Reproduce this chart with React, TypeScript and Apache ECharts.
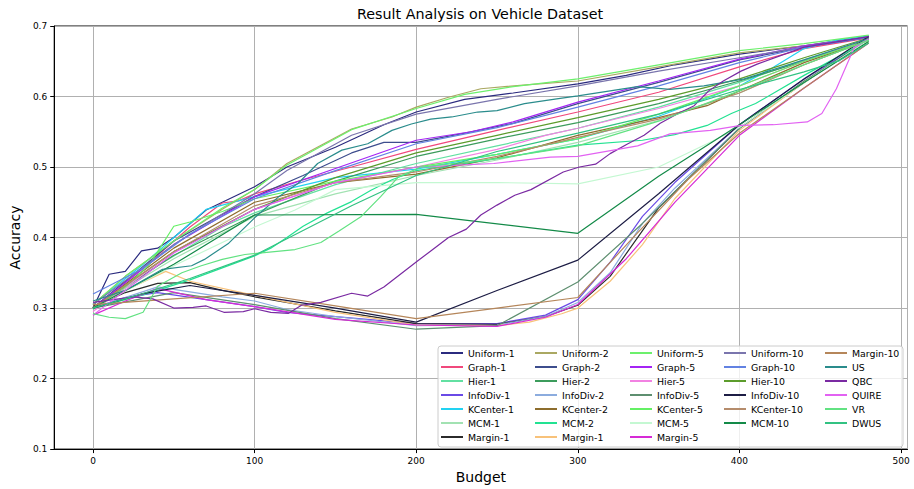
import React, { useEffect, useRef } from 'react';
import * as echarts from 'echarts';

const SERIES_NAMES = [
  'Uniform-1', 'Graph-1', 'Hier-1', 'InfoDiv-1', 'KCenter-1', 'MCM-1', 'Margin-1',
  'Uniform-2', 'Graph-2', 'Hier-2', 'InfoDiv-2', 'KCenter-2', 'MCM-2', 'Margin-1',
  'Uniform-5', 'Graph-5', 'Hier-5', 'InfoDiv-5', 'KCenter-5', 'MCM-5', 'Margin-5',
  'Uniform-10', 'Graph-10', 'Hier-10', 'InfoDiv-10', 'KCenter-10', 'MCM-10',
  'Margin-10', 'US', 'QBC', 'QUIRE', 'VR', 'DWUS',
];

const uniform1 = [[0,0.300],[10,0.348],[20,0.352],[30,0.381],[40,0.385],[50,0.400],[70,0.439],[100,0.472],[120,0.500],[150,0.528],[180,0.560],[200,0.578],[230,0.596],[260,0.605],[300,0.618],[330,0.630],[360,0.645],[400,0.660],[440,0.672],[480,0.686]];
const graph1 = [[0,0.300],[30,0.355],[60,0.415],[80,0.449],[90,0.452],[100,0.462],[130,0.482],[160,0.500],[200,0.525],[250,0.552],[300,0.578],[350,0.606],[400,0.642],[440,0.668],[480,0.683]];
const hier1 = [[0,0.298],[40,0.360],[80,0.415],[100,0.435],[150,0.475],[200,0.505],[250,0.530],[300,0.555],[350,0.585],[400,0.620],[440,0.652],[480,0.680]];
const infoDiv1 = [[0,0.300],[20,0.315],[40,0.322],[70,0.312],[100,0.302],[120,0.294],[150,0.288],[200,0.278],[250,0.278],[280,0.290],[300,0.312],[320,0.365],[340,0.430],[360,0.478],[400,0.560],[440,0.625],[480,0.680]];
const kCenter1 = [[0,0.305],[30,0.360],[60,0.420],[70,0.440],[100,0.458],[150,0.485],[200,0.497],[250,0.518],[300,0.540],[350,0.572],[400,0.615],[420,0.640],[440,0.668],[460,0.680],[480,0.686]];
const mcm1 = [[0,0.300],[50,0.370],[100,0.430],[150,0.462],[200,0.488],[250,0.510],[300,0.535],[350,0.566],[400,0.605],[440,0.645],[480,0.680]];
const margin1 = [[0,0.302],[20,0.322],[40,0.335],[60,0.336],[80,0.325],[100,0.316],[150,0.296],[200,0.278],[250,0.277],[280,0.288],[300,0.304],[320,0.345],[350,0.442],[400,0.555],[440,0.620],[480,0.682]];
const uniform2 = [[0,0.305],[20,0.345],[50,0.395],[80,0.440],[100,0.468],[120,0.505],[160,0.554],[185,0.571],[200,0.585],[220,0.599],[240,0.611],[270,0.617],[300,0.622],[350,0.642],[400,0.662],[440,0.672],[480,0.684]];
const graph2 = [[0,0.300],[50,0.395],[100,0.458],[130,0.488],[160,0.520],[180,0.535],[200,0.535],[230,0.548],[260,0.562],[300,0.590],[350,0.620],[400,0.652],[440,0.670],[480,0.684]];
const hier2 = [[0,0.300],[50,0.375],[100,0.432],[150,0.480],[200,0.515],[250,0.540],[300,0.563],[350,0.590],[400,0.622],[440,0.650],[480,0.680]];
const infoDiv2 = [[0,0.300],[40,0.330],[80,0.316],[100,0.310],[120,0.298],[150,0.288],[200,0.275],[250,0.276],[280,0.288],[300,0.308],[320,0.350],[340,0.420],[360,0.470],[400,0.555],[440,0.620],[480,0.680]];
const kCenter2 = [[0,0.300],[50,0.385],[100,0.450],[150,0.478],[200,0.490],[250,0.513],[300,0.545],[350,0.570],[380,0.587],[400,0.608],[440,0.648],[480,0.680]];
const mcm2 = [[0,0.300],[30,0.318],[60,0.340],[80,0.357],[100,0.374],[110,0.385],[120,0.400],[130,0.416],[145,0.435],[160,0.451],[172,0.467],[185,0.482],[200,0.495],[250,0.512],[300,0.531],[340,0.538],[360,0.546],[380,0.559],[395,0.576],[410,0.590],[440,0.630],[480,0.680]];
const margin1b = [[0,0.300],[20,0.325],[45,0.352],[60,0.338],[100,0.318],[150,0.294],[200,0.276],[250,0.275],[270,0.280],[290,0.292],[300,0.300],[320,0.338],[340,0.390],[360,0.455],[400,0.552],[440,0.620],[480,0.680]];
const uniform5 = [[0,0.305],[20,0.345],[50,0.395],[80,0.442],[100,0.468],[120,0.503],[160,0.553],[200,0.583],[230,0.603],[260,0.614],[300,0.625],[350,0.645],[400,0.665],[440,0.675],[480,0.687]];
const graph5 = [[0,0.300],[50,0.390],[100,0.458],[150,0.498],[200,0.538],[234,0.550],[260,0.564],[300,0.592],[350,0.622],[400,0.653],[440,0.672],[480,0.684]];
const hier5 = [[0,0.295],[50,0.380],[100,0.440],[150,0.478],[200,0.500],[250,0.525],[280,0.545],[300,0.555],[350,0.583],[400,0.615],[440,0.650],[480,0.682]];
const infoDiv5 = [[0,0.300],[50,0.322],[100,0.305],[150,0.285],[200,0.270],[250,0.275],[300,0.337],[340,0.420],[380,0.510],[400,0.555],[440,0.622],[480,0.680]];
const kCenter5 = [[0,0.300],[20,0.330],[35,0.362],[50,0.416],[60,0.422],[80,0.437],[100,0.455],[150,0.480],[200,0.500],[250,0.518],[300,0.540],[350,0.575],[400,0.615],[440,0.650],[480,0.680]];
const mcm5 = [[0,0.300],[50,0.360],[100,0.415],[125,0.439],[150,0.468],[200,0.478],[250,0.478],[300,0.476],[350,0.500],[380,0.533],[400,0.556],[440,0.620],[480,0.680]];
const margin5 = [[0,0.290],[20,0.310],[40,0.328],[70,0.312],[100,0.302],[150,0.284],[200,0.276],[250,0.274],[280,0.287],[300,0.305],[330,0.370],[360,0.450],[400,0.545],[440,0.612],[480,0.676]];
const uniform10 = [[0,0.305],[50,0.390],[100,0.462],[120,0.495],[160,0.545],[200,0.575],[250,0.596],[300,0.615],[350,0.636],[400,0.655],[440,0.670],[480,0.685]];
const graph10 = [[0,0.320],[30,0.355],[60,0.405],[100,0.455],[150,0.495],[200,0.533],[250,0.556],[300,0.585],[350,0.615],[400,0.648],[440,0.670],[480,0.684]];
const hier10 = [[0,0.300],[50,0.380],[100,0.440],[150,0.485],[200,0.520],[250,0.545],[300,0.570],[350,0.596],[400,0.625],[440,0.655],[480,0.683]];
const infoDiv10 = [[0,0.300],[30,0.320],[60,0.332],[100,0.318],[150,0.300],[200,0.280],[250,0.325],[300,0.368],[350,0.462],[400,0.560],[440,0.625],[480,0.685]];
const kCenter10 = [[0,0.300],[50,0.380],[100,0.445],[150,0.478],[200,0.493],[250,0.515],[300,0.542],[350,0.568],[400,0.605],[440,0.645],[480,0.680]];
const mcm10 = [[0,0.300],[50,0.362],[100,0.432],[200,0.433],[300,0.406],[350,0.487],[400,0.560],[440,0.620],[480,0.678]];
const margin10 = [[0,0.305],[50,0.313],[100,0.321],[150,0.303],[200,0.285],[250,0.300],[300,0.315],[333,0.397],[368,0.482],[400,0.548],[440,0.612],[480,0.676]];
const us = [[0,0.310],[20,0.325],[43,0.355],[61,0.360],[69,0.369],[84,0.392],[100,0.428],[115,0.458],[127,0.477],[139,0.505],[154,0.524],[170,0.533],[185,0.552],[197,0.561],[209,0.568],[222,0.571],[238,0.578],[250,0.580],[267,0.590],[288,0.597],[300,0.601],[337,0.614],[357,0.610],[378,0.615],[403,0.625],[440,0.652],[480,0.682]];
const qbc = [[0,0.308],[25,0.316],[37,0.313],[50,0.300],[62,0.301],[70,0.303],[81,0.294],[93,0.295],[100,0.299],[110,0.294],[121,0.2925],[129,0.304],[141,0.308],[160,0.321],[170,0.317],[180,0.330],[201,0.367],[209,0.381],[220,0.400],[231,0.412],[240,0.432],[250,0.446],[261,0.460],[271,0.468],[291,0.493],[301,0.500],[311,0.504],[320,0.519],[331,0.533],[341,0.545],[351,0.562],[362,0.576],[372,0.587],[381,0.608],[390,0.622],[401,0.636],[411,0.646],[440,0.670],[480,0.685]];
const quire = [[0,0.290],[50,0.378],[100,0.440],[150,0.478],[200,0.500],[248,0.505],[283,0.514],[300,0.515],[337,0.530],[357,0.547],[382,0.552],[401,0.559],[421,0.560],[442,0.564],[451,0.576],[460,0.611],[471,0.669],[480,0.682]];
const vr = [[0,0.292],[10,0.287],[20,0.285],[31,0.294],[40,0.331],[55,0.350],[67,0.360],[80,0.369],[94,0.376],[125,0.383],[141,0.393],[152,0.409],[166,0.430],[178,0.458],[189,0.486],[203,0.500],[250,0.512],[300,0.530],[350,0.565],[400,0.608],[440,0.645],[480,0.680]];
const dwus = [[0,0.300],[30,0.320],[60,0.342],[100,0.375],[130,0.410],[160,0.445],[200,0.488],[250,0.522],[300,0.548],[350,0.575],[400,0.610],[440,0.635],[462,0.651],[480,0.676]];

const SERIES_POINTS = [
  uniform1, graph1, hier1, infoDiv1, kCenter1, mcm1, margin1,
  uniform2, graph2, hier2, infoDiv2, kCenter2, mcm2, margin1b,
  uniform5, graph5, hier5, infoDiv5, kCenter5, mcm5, margin5,
  uniform10, graph10, hier10, infoDiv10, kCenter10, mcm10,
  margin10, us, qbc, quire, vr, dwus,
];

const SERIES_COLORS = [
  '#2b2b7f', '#f0487c', '#62e0a2', '#6a4ae6', '#22d2f2', '#a2e2b2', '#2b2b2b',
  '#aaa862', '#3d4d8d', '#3c9c5c', '#8cacde', '#8d6d2d', '#22e292', '#f8c27a',
  '#6cf06c', '#a424f4', '#f282e2', '#5e8f70', '#64f064', '#c4f8d2', '#d62ad6',
  '#7a75ad', '#6282e2', '#5c9c2c', '#1d1d45', '#b58c6c', '#138a48',
  '#b5865a', '#2a8c8c', '#7a2aa2', '#e262f2', '#62e282', '#32c282',
];

const LEGEND_COLUMNS = [
  [0, 1, 2, 3, 4, 5, 6],
  [7, 8, 9, 10, 11, 12, 13],
  [14, 15, 16, 17, 18, 19, 20],
  [21, 22, 23, 24, 25, 26],
  [27, 28, 29, 30, 31, 32],
];
const LEGEND_LEFTS = [441, 535, 630, 724, 825];

const FONT = 'DejaVu Sans';

export default function App() {
  const ref = useRef<HTMLDivElement>(null);
  useEffect(() => {
    document.body.style.margin = '0';
    if (!ref.current) return;
    const chart = echarts.init(ref.current, null, { renderer: 'svg' });
    const legends = LEGEND_COLUMNS.map((col, ci) => ({
      orient: 'vertical',
      left: LEGEND_LEFTS[ci],
      top: 347,
      padding: 0,
      itemGap: 2,
      itemWidth: 22,
      itemHeight: 2,
      icon: 'rect',
      selectedMode: false,
      z: 10,
      textStyle: { fontFamily: FONT, fontSize: 9.4, color: '#000', lineHeight: 12 },
      data: col.map((i) => ({
        name: SERIES_NAMES[i],
        icon: 'rect',
        itemStyle: { color: SERIES_COLORS[i], borderWidth: 0 },
        lineStyle: { color: SERIES_COLORS[i] },
      })),
    }));
    chart.setOption({
      animation: false,
      grid: {
        left: 52, right: 6.5, top: 26, bottom: 37,
        show: true, borderColor: '#000', borderWidth: 1, backgroundColor: '#fff',
      },
      graphic: [
        {
          type: 'text', x: 480, y: 14, z: 10,
          style: {
            text: 'Result Analysis on Vehicle Dataset', fontFamily: FONT, fontSize: 14.3,
            fill: '#000', align: 'center', verticalAlign: 'middle',
          },
        },
        {
          type: 'rect', z: 9,
          shape: { x: 438, y: 346, width: 465, height: 101, r: 3 },
          style: { fill: 'rgba(255,255,255,0.8)', stroke: '#cccccc', lineWidth: 1 },
        },
      ],
      legend: legends,
      xAxis: {
        type: 'value', min: -24, max: 504, splitNumber: 5,
        name: 'Budget', nameLocation: 'middle', nameGap: 18,
        nameTextStyle: { fontFamily: FONT, fontSize: 14, color: '#000' },
        axisLine: { show: true, onZero: false, lineStyle: { color: '#000', width: 1 } },
        axisTick: { show: true, length: 4, lineStyle: { color: '#000' } },
        axisLabel: { fontFamily: FONT, fontSize: 9, color: '#000', margin: 7, showMinLabel: false, showMaxLabel: false },
        splitLine: { show: true, lineStyle: { color: '#b0b0b0', width: 1 } },
      },
      yAxis: {
        type: 'value', min: 0.1, max: 0.7, interval: 0.1,
        name: 'Accuracy', nameLocation: 'middle', nameGap: 25,
        nameTextStyle: { fontFamily: FONT, fontSize: 14, color: '#000' },
        axisLine: { show: true, onZero: false, lineStyle: { color: '#000', width: 1 } },
        axisTick: { show: true, length: 4, lineStyle: { color: '#000' } },
        axisLabel: { fontFamily: FONT, fontSize: 9, color: '#000', margin: 7, formatter: (v: number) => v.toFixed(1) },
        splitLine: { show: true, lineStyle: { color: '#b0b0b0', width: 1 } },
      },
      series: SERIES_NAMES.map((name, i) => ({
        name,
        type: 'line',
        data: SERIES_POINTS[i],
        showSymbol: false,
        symbol: 'none',
        silent: true,
        z: 2,
        lineStyle: { color: SERIES_COLORS[i], width: 1.2 },
        itemStyle: { color: SERIES_COLORS[i] },
        emphasis: { disabled: true },
      })),
    });
    return () => chart.dispose();
  }, []);
  return <div ref={ref} style={{ width: 914, height: 489 }} />;
}
